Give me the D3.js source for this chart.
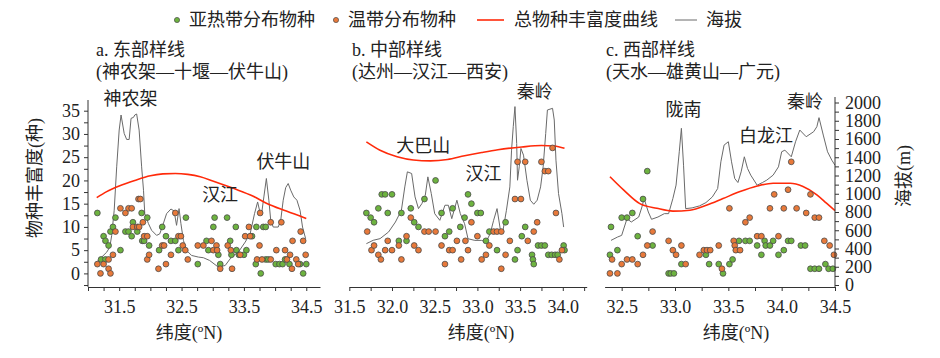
<!DOCTYPE html>
<html><head><meta charset="utf-8">
<script src="https://cdnjs.cloudflare.com/ajax/libs/d3/7.8.5/d3.min.js"></script>
<style>
body{margin:0;background:#fff;}
svg{display:block;font-family:"Liberation Serif","Noto Sans CJK SC",serif;}
</style></head><body>
<svg id="c" width="940" height="358"></svg>
<script>
// ---------- DATA ----------
const subA=[[31.15,13],[31.21,3],[31.25,8],[31.28,3],[31.28,7],[31.33,6],[31.36,9],[31.4,10],[31.44,12],[31.52,5],[31.6,9],[31.65,9],[31.7,8],[31.72,11],[31.79,9],[31.86,13],[31.87,7],[31.9,7],[31.95,12],[31.98,6],[32.14,5],[32.19,10],[32.25,8],[32.33,7],[32.4,7],[32.45,5],[32.57,12],[32.76,2],[32.9,7],[32.93,5],[33.01,10],[33.03,12],[33.09,4],[33.12,2],[33.23,12],[33.28,7],[33.3,4],[33.37,10],[33.38,5],[33.42,4],[33.5,4],[33.54,5],[33.63,8],[33.69,2],[33.7,10],[33.77,0],[33.81,10],[33.85,10],[33.85,3],[33.89,3],[34.01,2],[34.07,2],[34.12,2],[34.16,3],[34.23,2],[34.4,2],[34.45,0],[34.5,2]];
const tempA=[[31.15,2],[31.2,0],[31.25,2],[31.33,3],[31.33,1],[31.36,0],[31.4,4],[31.44,9],[31.52,14],[31.6,13],[31.65,14],[31.7,14],[31.72,10],[31.79,10],[31.82,10],[31.81,16],[31.84,16],[31.88,11],[31.9,8],[31.95,8],[31.95,3],[31.98,4],[32.13,1],[32.19,6],[32.22,6],[32.25,2],[32.33,4],[32.4,13],[32.45,8],[32.49,8],[32.52,6],[32.56,5],[32.6,3],[32.76,6],[32.85,6],[32.98,7],[33.01,5],[33.06,6],[33.07,5],[33.12,1],[33.24,6],[33.29,5],[33.31,1],[33.44,4],[33.52,8],[33.58,10],[33.6,8],[33.71,3],[33.75,6],[33.76,13],[33.79,3],[33.93,11],[33.93,3],[34.02,5],[34.1,11],[34.16,5],[34.19,3],[34.24,4],[34.27,1],[34.28,7],[34.34,3],[34.37,2],[34.41,9],[34.45,7],[34.49,4]];
const elevA=[[31.11,233],[31.22,306],[31.3,360],[31.35,415],[31.38,544],[31.42,819],[31.46,1295],[31.5,1698],[31.53,1863],[31.58,1661],[31.62,1595],[31.66,1595],[31.69,1826],[31.73,1837],[31.75,1863],[31.78,1874],[31.82,1698],[31.86,1295],[31.89,1038],[31.91,782],[31.97,672],[32.02,599],[32.1,544],[32.15,560],[32.19,635],[32.26,782],[32.33,833],[32.38,811],[32.42,654],[32.46,837],[32.49,672],[32.53,489],[32.58,379],[32.66,324],[32.77,306],[32.85,299],[32.95,269],[33.09,196],[33.2,214],[33.3,306],[33.41,360],[33.52,470],[33.6,562],[33.67,782],[33.72,910],[33.75,819],[33.78,764],[33.82,965],[33.86,1167],[33.9,929],[33.93,709],[33.97,635],[34.05,635],[34.09,709],[34.13,929],[34.17,1067],[34.21,1112],[34.25,1039],[34.3,965],[34.35,929],[34.4,819],[34.44,635],[34.49,507]];
const curveA=[[31.14,16.3],[31.3,17.6],[31.5,18.8],[31.75,20.0],[32.0,21.0],[32.2,21.4],[32.4,21.5],[32.6,21.3],[32.8,20.8],[33.0,19.9],[33.33,18.3],[33.65,16.6],[33.86,15.1],[34.18,13.4],[34.5,11.8]];

const subB=[[31.7,13],[31.75,12],[31.79,11],[31.84,14],[31.88,17],[31.92,17],[32.0,17],[31.95,13],[32.08,7],[32.11,13],[32.17,7],[32.22,14],[32.26,11],[32.31,10],[32.38,16],[32.51,20],[32.58,13],[32.62,8],[32.67,9],[32.71,14],[32.8,10],[32.85,12],[32.89,17],[32.93,15],[33.0,13],[33.04,13],[33.1,7],[33.14,9],[33.23,5],[33.33,11],[33.44,3],[33.47,5],[33.52,8],[33.56,10],[33.64,4],[33.65,3],[33.66,2],[33.71,6],[33.75,6],[33.79,6],[33.83,4],[33.87,4],[33.91,4],[33.94,4],[34.01,6],[34.02,5]];
const tempB=[[31.71,9],[31.76,5],[31.79,6],[31.84,4],[31.87,3],[31.92,5],[31.95,7],[32.0,5],[32.08,6],[32.11,3],[32.17,8],[32.22,12],[32.26,6],[32.31,5],[32.38,9],[32.43,9],[32.51,9],[32.58,6],[32.62,2],[32.67,5],[32.71,5],[32.76,7],[32.81,3],[32.86,7],[32.89,5],[32.93,11],[33.0,8],[33.05,3],[33.1,4],[33.14,6],[33.19,9],[33.23,9],[33.28,9],[33.28,1],[33.33,4],[33.38,7],[33.44,16],[33.47,24],[33.51,16],[33.56,24],[33.59,7],[33.66,9],[33.7,11],[33.75,24],[33.79,22],[33.83,22],[33.88,27],[33.92,13],[33.96,3],[33.99,5]];
const elevB=[[31.7,453],[31.78,490],[31.86,508],[31.96,581],[32.04,690],[32.11,819],[32.15,1075],[32.18,1240],[32.23,1222],[32.27,965],[32.31,837],[32.35,892],[32.39,984],[32.42,1185],[32.46,1002],[32.5,782],[32.56,709],[32.62,874],[32.66,874],[32.7,727],[32.76,929],[32.8,782],[32.85,672],[32.89,507],[32.97,489],[33.05,489],[33.1,471],[33.15,562],[33.19,709],[33.23,837],[33.27,599],[33.3,599],[33.34,819],[33.38,1075],[33.4,1478],[33.42,1735],[33.44,1955],[33.46,1551],[33.47,1148],[33.49,1295],[33.51,1496],[33.54,1423],[33.58,1148],[33.62,929],[33.66,885],[33.7,929],[33.74,1075],[33.77,1295],[33.8,1661],[33.82,1918],[33.88,1936],[33.9,1808],[33.92,1368],[33.95,1002],[33.99,782],[34.01,635]];
const curveB=[[31.7,28.3],[31.86,26.5],[32.06,25.1],[32.25,24.4],[32.45,24.2],[32.65,24.5],[32.85,25.3],[33.05,26.0],[33.24,26.6],[33.52,27.2],[33.75,27.5],[33.9,27.4],[34.02,26.9]];

const subC=[[32.4,10],[32.39,4],[32.46,5],[32.5,12],[32.55,12],[32.6,13],[32.65,8],[32.7,16],[32.74,22],[32.79,6],[32.94,0],[32.96,0],[32.99,0],[33.06,2],[33.29,4],[33.32,2],[33.41,2],[33.45,0],[33.51,2],[33.54,3],[33.6,7],[33.66,7],[33.7,7],[33.77,6],[33.81,4],[33.84,7],[33.85,6],[33.89,6],[33.92,7],[33.97,4],[34.02,5],[34.06,7],[34.09,7],[34.18,6],[34.22,6],[34.27,1],[34.31,1],[34.35,1],[34.41,2],[34.44,1],[34.48,1]];
const tempC=[[32.41,3],[32.39,0],[32.46,0],[32.5,2],[32.55,3],[32.6,3],[32.65,2],[32.7,4],[32.74,6],[32.79,9],[32.94,7],[32.98,5],[33.01,4],[33.06,6],[33.1,2],[33.23,4],[33.27,5],[33.3,5],[33.33,5],[33.41,6],[33.44,1],[33.51,14],[33.55,7],[33.56,6],[33.57,5],[33.61,5],[33.66,11],[33.7,12],[33.77,8],[33.81,8],[33.89,14],[33.93,17],[33.97,8],[34.02,14],[34.06,18],[34.09,24],[34.14,14],[34.23,13],[34.27,17],[34.31,12],[34.35,12],[34.4,7],[34.45,6],[34.49,4]];
const elevC=[[32.4,489],[32.46,525],[32.5,544],[32.55,727],[32.59,690],[32.66,745],[32.69,855],[32.71,947],[32.75,800],[32.78,720],[32.84,745],[32.9,782],[32.94,782],[32.98,947],[33.01,1095],[33.04,1460],[33.06,1717],[33.08,1313],[33.1,837],[33.16,845],[33.23,867],[33.29,903],[33.35,965],[33.4,1057],[33.43,1350],[33.46,1533],[33.5,1570],[33.53,1350],[33.56,1167],[33.59,1123],[33.62,1240],[33.65,1405],[33.68,1277],[33.71,1204],[33.77,1094],[33.82,1123],[33.86,1149],[33.92,1204],[33.97,1295],[34.0,1460],[34.03,1478],[34.09,1405],[34.13,1570],[34.17,1698],[34.23,1625],[34.3,1680],[34.33,1735],[34.35,1834],[34.39,1643],[34.43,1460],[34.47,1368],[34.5,1313]];
const curveC=[[32.39,20.8],[32.52,17.9],[32.67,15.0],[32.83,14.0],[32.98,13.4],[33.14,13.6],[33.3,14.7],[33.45,16.1],[33.61,17.6],[33.77,18.8],[33.92,19.4],[34.08,19.4],[34.2,18.7],[34.33,16.9],[34.42,15.1],[34.5,13.5]];

const richTicks=[0,5,10,15,20,25,30,35];
const elevTicks=[0,200,400,600,800,1000,1200,1400,1600,1800,2000];
const xLabelsA=[31.5,32.5,33.5,34.5];
const xLabelsB=[31.5,32.0,32.5,33.0,33.5,34.0];
const xLabelsC=[32.5,33.0,33.5,34.0,34.5];
const legendLabels=["亚热带分布物种","温带分布物种","总物种丰富度曲线","海拔"];
const titles=[["a. 东部样线","(神农架—十堰—伏牛山)"],["b. 中部样线","(达州—汉江—西安)"],["c. 西部样线","(天水—雄黄山—广元)"]];
const peakLabels=[[["神农架",31.25,37.6],["汉江",32.83,16.9],["伏牛山",33.7,23.9]],
                  [["大巴山",32.05,27.4],["汉江",32.86,21.4],["秦岭",33.46,39.0]],
                  [["陇南",32.91,35.1],["白龙江",33.6,29.6],["秦岭",34.05,36.9]]];

// ---------- LAYOUT ----------
const GREEN="#6db33f", ORANGE="#e8793a", RED="#ff2a0a";
const svg=d3.select("#c");
const yv=d3.scaleLinear().domain([0,35]).range([273.4,110.7]);
const ye=d3.scaleLinear().domain([0,2000]).range([285,102.5]);
const AXY=287;
const panels=[
 {sub:subA,temp:tempA,elev:elevA,curve:curveA,dom:[31.0,34.72],rng:[88,320],t0:31.0,t1:34.5,labels:xLabelsA,tx:96,xt:189},
 {sub:subB,temp:tempB,elev:elevB,curve:curveB,dom:[31.5,34.28],rng:[349.3,586.7],t0:31.5,t1:34.25,labels:xLabelsB,tx:352,xt:481},
 {sub:subC,temp:tempC,elev:elevC,curve:curveC,dom:[32.34,34.5],rng:[604.6,835],t0:32.5,t1:34.5,labels:xLabelsC,tx:606,xt:736}
];
const txtCol="#222", axCol="#333";

panels.forEach((p,i)=>{
  const x=d3.scaleLinear().domain(p.dom).range(p.rng);
  const g=svg.append("g");
  const minor=d3.range(Math.round((p.t1-p.t0)/0.25)+1).map(k=>+(p.t0+k*0.25).toFixed(2));
  const isLab=d=>p.labels.some(l=>Math.abs(l-d)<1e-6);
  const ax=g.append("g").attr("transform",`translate(0,${AXY})`)
    .call(d3.axisBottom(x).tickValues(minor).tickSize(4).tickSizeOuter(0).tickPadding(9)
      .tickFormat(d=>isLab(d)?d3.format(".1f")(d):""));
  ax.select(".domain").attr("stroke",axCol);
  ax.selectAll(".tick line").attr("stroke",axCol);
  ax.selectAll(".tick text").attr("font-size",18).attr("fill",txtCol).attr("font-family","Liberation Serif");
  // elevation line
  g.append("path").datum(p.elev).attr("fill","none").attr("stroke","#6a6a6a").attr("stroke-width",1)
    .attr("d",d3.line().x(d=>x(d[0])).y(d=>ye(d[1])));
  // richness curve
  g.append("path").datum(p.curve).attr("fill","none").attr("stroke",RED).attr("stroke-width",1.6)
    .attr("d",d3.line().curve(d3.curveMonotoneX).x(d=>x(d[0])).y(d=>yv(d[1])));
  // points
  g.selectAll("circle.s").data(p.sub).join("circle").attr("class","s")
    .attr("cx",d=>x(d[0])).attr("cy",d=>yv(d[1])).attr("r",2.9)
    .attr("fill",GREEN).attr("stroke","#4a4a4a").attr("stroke-width",0.8);
  g.selectAll("circle.t").data(p.temp).join("circle").attr("class","t")
    .attr("cx",d=>x(d[0])).attr("cy",d=>yv(d[1])).attr("r",2.9)
    .attr("fill",ORANGE).attr("stroke","#4a4a4a").attr("stroke-width",0.8);
  // titles
  g.append("text").attr("x",p.tx).attr("y",50).attr("dominant-baseline","central")
    .attr("font-size",18).attr("fill",txtCol).text(titles[i][0]);
  g.append("text").attr("x",p.tx).attr("y",72).attr("dominant-baseline","central")
    .attr("font-size",18).attr("fill",txtCol).text(titles[i][1]);
  // peak labels
  peakLabels[i].forEach(l=>{
    g.append("text").attr("x",x(l[1])).attr("y",yv(l[2])).attr("dominant-baseline","central")
      .attr("font-size",18).attr("fill",txtCol).text(l[0]);
  });
  // x title
  g.append("text").attr("x",p.xt).attr("y",333).attr("text-anchor","middle").attr("dominant-baseline","central")
    .attr("font-size",18).attr("fill",txtCol).text("纬度(ºN)");
});

// left axis (panel a)
const la=svg.append("g").attr("transform","translate(88,0)")
  .call(d3.axisLeft(yv).tickValues(d3.range(-2.5,35.1,2.5)).tickSize(4).tickSizeOuter(0).tickPadding(4)
    .tickFormat(d=>richTicks.includes(d)?d:""));
la.select(".domain").remove();
la.append("line").attr("x1",0).attr("x2",0).attr("y1",AXY).attr("y2",100).attr("stroke",axCol);
la.selectAll(".tick line").attr("stroke",axCol);
la.selectAll(".tick text").attr("font-size",18).attr("fill",txtCol).attr("font-family","Liberation Serif");
svg.append("text").attr("transform","translate(35,178) rotate(-90)").attr("text-anchor","middle")
  .attr("dominant-baseline","central").attr("font-size",18).attr("fill",txtCol).text("物种丰富度(种)");

// right axis (panel c)
const ra=svg.append("g").attr("transform","translate(835,0)")
  .call(d3.axisRight(ye).tickValues(d3.range(0,2001,100)).tickSize(4).tickSizeOuter(0).tickPadding(6)
    .tickFormat(d=>elevTicks.includes(d)?d:""));
ra.select(".domain").remove();
ra.append("line").attr("x1",0).attr("x2",0).attr("y1",AXY).attr("y2",97).attr("stroke",axCol);
ra.selectAll(".tick line").attr("stroke",axCol);
ra.selectAll(".tick text").attr("font-size",18).attr("fill",txtCol).attr("font-family","Liberation Serif");
svg.append("text").attr("transform","translate(904,176) rotate(-90)").attr("text-anchor","middle")
  .attr("dominant-baseline","central").attr("font-size",18).attr("fill",txtCol).text("海拔(m)");

// legend
const lg=svg.append("g").attr("font-size",18).attr("fill",txtCol);
lg.append("circle").attr("cx",177).attr("cy",20).attr("r",2.6).attr("fill",GREEN).attr("stroke","#4a4a4a").attr("stroke-width",0.7);
lg.append("text").attr("x",189).attr("y",20).attr("dominant-baseline","central").text(legendLabels[0]);
lg.append("circle").attr("cx",336).attr("cy",20).attr("r",2.6).attr("fill",ORANGE).attr("stroke","#4a4a4a").attr("stroke-width",0.7);
lg.append("text").attr("x",348).attr("y",20).attr("dominant-baseline","central").text(legendLabels[1]);
lg.append("line").attr("x1",477).attr("x2",504).attr("y1",20).attr("y2",20).attr("stroke",RED).attr("stroke-width",1.6);
lg.append("text").attr("x",514).attr("y",20).attr("dominant-baseline","central").text(legendLabels[2]);
lg.append("line").attr("x1",675).attr("x2",697).attr("y1",20).attr("y2",20).attr("stroke","#6a6a6a").attr("stroke-width",1);
lg.append("text").attr("x",706).attr("y",20).attr("dominant-baseline","central").text(legendLabels[3]);
</script>
</body></html>
